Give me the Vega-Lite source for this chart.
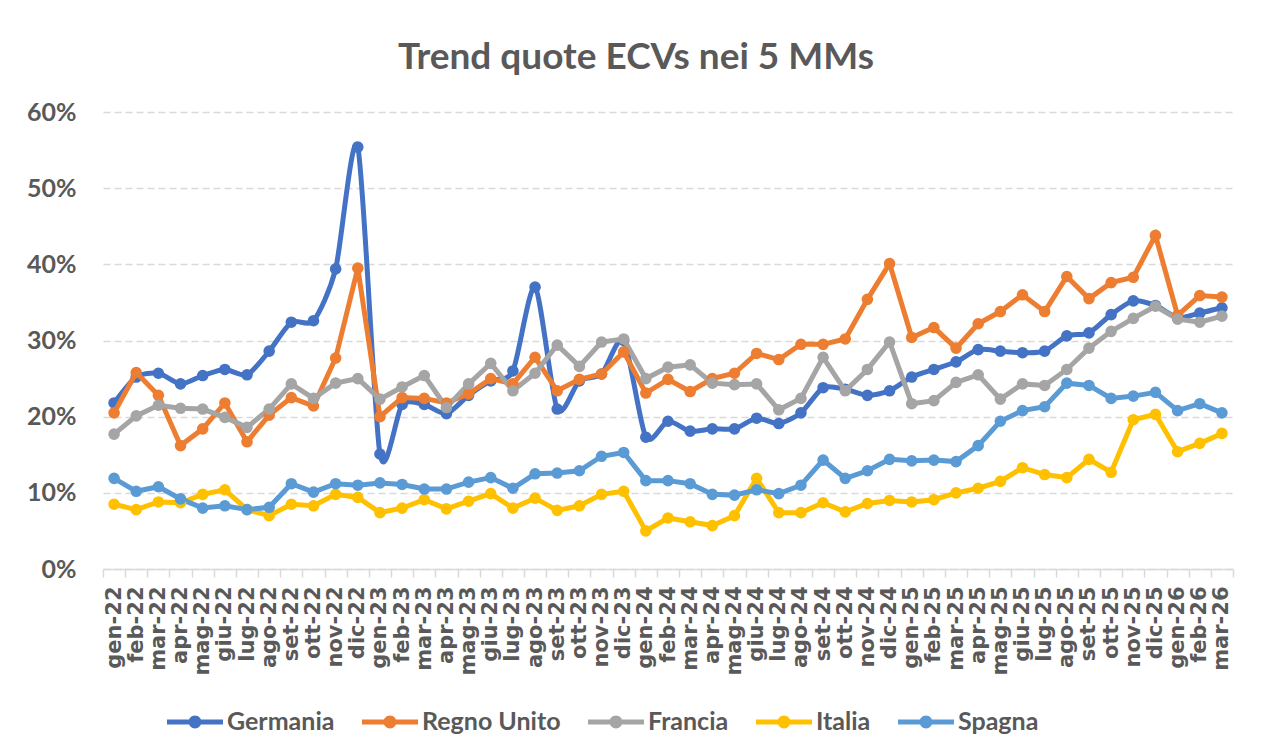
{
"$schema": "https://vega.github.io/schema/vega-lite/v6.json",
"width": 1130, "height": 457,
"autosize": {"type": "none"},
"padding": {"left": 103, "top": 112, "right": 28, "bottom": 186},
"background": "white",
"title": {"text": "Trend quote ECVs nei 5 MMs", "font": "Lato", "fontSize": 37, "fontWeight": "bold", "color": "#595959", "anchor": "middle", "dx": -32, "offset": 23},
"data": {"values": [
{"m":"gen-22","p":"Germania","v":21.8},{"m":"feb-22","p":"Germania","v":25.2},{"m":"mar-22","p":"Germania","v":25.7},{"m":"apr-22","p":"Germania","v":24.3},{"m":"mag-22","p":"Germania","v":25.4},{"m":"giu-22","p":"Germania","v":26.2},{"m":"lug-22","p":"Germania","v":25.5},{"m":"ago-22","p":"Germania","v":28.6},{"m":"set-22","p":"Germania","v":32.4},{"m":"ott-22","p":"Germania","v":32.6},{"m":"nov-22","p":"Germania","v":39.4},{"m":"dic-22","p":"Germania","v":55.4},
{"m":"gen-23","p":"Germania","v":15.1},{"m":"feb-23","p":"Germania","v":21.6},{"m":"mar-23","p":"Germania","v":21.6},{"m":"apr-23","p":"Germania","v":20.4},{"m":"mag-23","p":"Germania","v":22.8},{"m":"giu-23","p":"Germania","v":24.7},{"m":"lug-23","p":"Germania","v":26.0},{"m":"ago-23","p":"Germania","v":37.0},{"m":"set-23","p":"Germania","v":21.0},{"m":"ott-23","p":"Germania","v":24.7},{"m":"nov-23","p":"Germania","v":25.6},{"m":"dic-23","p":"Germania","v":30.0},
{"m":"gen-24","p":"Germania","v":17.3},{"m":"feb-24","p":"Germania","v":19.4},{"m":"mar-24","p":"Germania","v":18.1},{"m":"apr-24","p":"Germania","v":18.4},{"m":"mag-24","p":"Germania","v":18.4},{"m":"giu-24","p":"Germania","v":19.8},{"m":"lug-24","p":"Germania","v":19.1},{"m":"ago-24","p":"Germania","v":20.5},{"m":"set-24","p":"Germania","v":23.8},{"m":"ott-24","p":"Germania","v":23.6},{"m":"nov-24","p":"Germania","v":22.8},{"m":"dic-24","p":"Germania","v":23.4},
{"m":"gen-25","p":"Germania","v":25.2},{"m":"feb-25","p":"Germania","v":26.2},{"m":"mar-25","p":"Germania","v":27.2},{"m":"apr-25","p":"Germania","v":28.8},{"m":"mag-25","p":"Germania","v":28.6},{"m":"giu-25","p":"Germania","v":28.4},{"m":"lug-25","p":"Germania","v":28.6},{"m":"ago-25","p":"Germania","v":30.6},{"m":"set-25","p":"Germania","v":31.0},{"m":"ott-25","p":"Germania","v":33.4},{"m":"nov-25","p":"Germania","v":35.2},{"m":"dic-25","p":"Germania","v":34.6},
{"m":"gen-26","p":"Germania","v":33.0},{"m":"feb-26","p":"Germania","v":33.6},{"m":"mar-26","p":"Germania","v":34.3},
{"m":"gen-22","p":"Regno Unito","v":20.5},{"m":"feb-22","p":"Regno Unito","v":25.8},{"m":"mar-22","p":"Regno Unito","v":22.8},{"m":"apr-22","p":"Regno Unito","v":16.2},{"m":"mag-22","p":"Regno Unito","v":18.4},{"m":"giu-22","p":"Regno Unito","v":21.8},{"m":"lug-22","p":"Regno Unito","v":16.7},{"m":"ago-22","p":"Regno Unito","v":20.2},{"m":"set-22","p":"Regno Unito","v":22.5},{"m":"ott-22","p":"Regno Unito","v":21.4},{"m":"nov-22","p":"Regno Unito","v":27.7},{"m":"dic-22","p":"Regno Unito","v":39.5},
{"m":"gen-23","p":"Regno Unito","v":20.0},{"m":"feb-23","p":"Regno Unito","v":22.5},{"m":"mar-23","p":"Regno Unito","v":22.4},{"m":"apr-23","p":"Regno Unito","v":21.8},{"m":"mag-23","p":"Regno Unito","v":23.0},{"m":"giu-23","p":"Regno Unito","v":25.0},{"m":"lug-23","p":"Regno Unito","v":24.3},{"m":"ago-23","p":"Regno Unito","v":27.8},{"m":"set-23","p":"Regno Unito","v":23.4},{"m":"ott-23","p":"Regno Unito","v":24.9},{"m":"nov-23","p":"Regno Unito","v":25.6},{"m":"dic-23","p":"Regno Unito","v":28.5},
{"m":"gen-24","p":"Regno Unito","v":23.1},{"m":"feb-24","p":"Regno Unito","v":24.9},{"m":"mar-24","p":"Regno Unito","v":23.3},{"m":"apr-24","p":"Regno Unito","v":25.0},{"m":"mag-24","p":"Regno Unito","v":25.7},{"m":"giu-24","p":"Regno Unito","v":28.3},{"m":"lug-24","p":"Regno Unito","v":27.5},{"m":"ago-24","p":"Regno Unito","v":29.5},{"m":"set-24","p":"Regno Unito","v":29.5},{"m":"ott-24","p":"Regno Unito","v":30.2},{"m":"nov-24","p":"Regno Unito","v":35.4},{"m":"dic-24","p":"Regno Unito","v":40.1},
{"m":"gen-25","p":"Regno Unito","v":30.4},{"m":"feb-25","p":"Regno Unito","v":31.7},{"m":"mar-25","p":"Regno Unito","v":29.0},{"m":"apr-25","p":"Regno Unito","v":32.2},{"m":"mag-25","p":"Regno Unito","v":33.8},{"m":"giu-25","p":"Regno Unito","v":36.0},{"m":"lug-25","p":"Regno Unito","v":33.8},{"m":"ago-25","p":"Regno Unito","v":38.4},{"m":"set-25","p":"Regno Unito","v":35.5},{"m":"ott-25","p":"Regno Unito","v":37.6},{"m":"nov-25","p":"Regno Unito","v":38.3},{"m":"dic-25","p":"Regno Unito","v":43.8},
{"m":"gen-26","p":"Regno Unito","v":33.3},{"m":"feb-26","p":"Regno Unito","v":35.9},{"m":"mar-26","p":"Regno Unito","v":35.7},
{"m":"gen-22","p":"Francia","v":17.7},{"m":"feb-22","p":"Francia","v":20.1},{"m":"mar-22","p":"Francia","v":21.5},{"m":"apr-22","p":"Francia","v":21.1},{"m":"mag-22","p":"Francia","v":21.0},{"m":"giu-22","p":"Francia","v":19.9},{"m":"lug-22","p":"Francia","v":18.6},{"m":"ago-22","p":"Francia","v":21.0},{"m":"set-22","p":"Francia","v":24.3},{"m":"ott-22","p":"Francia","v":22.4},{"m":"nov-22","p":"Francia","v":24.4},{"m":"dic-22","p":"Francia","v":25.0},
{"m":"gen-23","p":"Francia","v":22.3},{"m":"feb-23","p":"Francia","v":23.9},{"m":"mar-23","p":"Francia","v":25.4},{"m":"apr-23","p":"Francia","v":21.2},{"m":"mag-23","p":"Francia","v":24.3},{"m":"giu-23","p":"Francia","v":27.0},{"m":"lug-23","p":"Francia","v":23.4},{"m":"ago-23","p":"Francia","v":25.7},{"m":"set-23","p":"Francia","v":29.4},{"m":"ott-23","p":"Francia","v":26.6},{"m":"nov-23","p":"Francia","v":29.8},{"m":"dic-23","p":"Francia","v":30.2},
{"m":"gen-24","p":"Francia","v":25.0},{"m":"feb-24","p":"Francia","v":26.5},{"m":"mar-24","p":"Francia","v":26.8},{"m":"apr-24","p":"Francia","v":24.4},{"m":"mag-24","p":"Francia","v":24.2},{"m":"giu-24","p":"Francia","v":24.3},{"m":"lug-24","p":"Francia","v":20.9},{"m":"ago-24","p":"Francia","v":22.4},{"m":"set-24","p":"Francia","v":27.8},{"m":"ott-24","p":"Francia","v":23.4},{"m":"nov-24","p":"Francia","v":26.2},{"m":"dic-24","p":"Francia","v":29.8},
{"m":"gen-25","p":"Francia","v":21.7},{"m":"feb-25","p":"Francia","v":22.1},{"m":"mar-25","p":"Francia","v":24.5},{"m":"apr-25","p":"Francia","v":25.5},{"m":"mag-25","p":"Francia","v":22.3},{"m":"giu-25","p":"Francia","v":24.3},{"m":"lug-25","p":"Francia","v":24.1},{"m":"ago-25","p":"Francia","v":26.2},{"m":"set-25","p":"Francia","v":29.0},{"m":"ott-25","p":"Francia","v":31.2},{"m":"nov-25","p":"Francia","v":32.9},{"m":"dic-25","p":"Francia","v":34.5},
{"m":"gen-26","p":"Francia","v":32.8},{"m":"feb-26","p":"Francia","v":32.4},{"m":"mar-26","p":"Francia","v":33.2},
{"m":"gen-22","p":"Italia","v":8.5},{"m":"feb-22","p":"Italia","v":7.8},{"m":"mar-22","p":"Italia","v":8.8},{"m":"apr-22","p":"Italia","v":8.7},{"m":"mag-22","p":"Italia","v":9.8},{"m":"giu-22","p":"Italia","v":10.4},{"m":"lug-22","p":"Italia","v":7.8},{"m":"ago-22","p":"Italia","v":7.0},{"m":"set-22","p":"Italia","v":8.5},{"m":"ott-22","p":"Italia","v":8.3},{"m":"nov-22","p":"Italia","v":9.8},{"m":"dic-22","p":"Italia","v":9.4},
{"m":"gen-23","p":"Italia","v":7.4},{"m":"feb-23","p":"Italia","v":8.0},{"m":"mar-23","p":"Italia","v":9.1},{"m":"apr-23","p":"Italia","v":7.9},{"m":"mag-23","p":"Italia","v":8.9},{"m":"giu-23","p":"Italia","v":9.9},{"m":"lug-23","p":"Italia","v":8.0},{"m":"ago-23","p":"Italia","v":9.3},{"m":"set-23","p":"Italia","v":7.7},{"m":"ott-23","p":"Italia","v":8.3},{"m":"nov-23","p":"Italia","v":9.8},{"m":"dic-23","p":"Italia","v":10.2},
{"m":"gen-24","p":"Italia","v":5.0},{"m":"feb-24","p":"Italia","v":6.7},{"m":"mar-24","p":"Italia","v":6.2},{"m":"apr-24","p":"Italia","v":5.7},{"m":"mag-24","p":"Italia","v":7.0},{"m":"giu-24","p":"Italia","v":11.9},{"m":"lug-24","p":"Italia","v":7.4},{"m":"ago-24","p":"Italia","v":7.4},{"m":"set-24","p":"Italia","v":8.7},{"m":"ott-24","p":"Italia","v":7.5},{"m":"nov-24","p":"Italia","v":8.6},{"m":"dic-24","p":"Italia","v":9.0},
{"m":"gen-25","p":"Italia","v":8.8},{"m":"feb-25","p":"Italia","v":9.1},{"m":"mar-25","p":"Italia","v":10.0},{"m":"apr-25","p":"Italia","v":10.6},{"m":"mag-25","p":"Italia","v":11.5},{"m":"giu-25","p":"Italia","v":13.3},{"m":"lug-25","p":"Italia","v":12.4},{"m":"ago-25","p":"Italia","v":12.0},{"m":"set-25","p":"Italia","v":14.4},{"m":"ott-25","p":"Italia","v":12.7},{"m":"nov-25","p":"Italia","v":19.6},{"m":"dic-25","p":"Italia","v":20.3},
{"m":"gen-26","p":"Italia","v":15.4},{"m":"feb-26","p":"Italia","v":16.5},{"m":"mar-26","p":"Italia","v":17.8},
{"m":"gen-22","p":"Spagna","v":11.9},{"m":"feb-22","p":"Spagna","v":10.2},{"m":"mar-22","p":"Spagna","v":10.8},{"m":"apr-22","p":"Spagna","v":9.2},{"m":"mag-22","p":"Spagna","v":8.0},{"m":"giu-22","p":"Spagna","v":8.3},{"m":"lug-22","p":"Spagna","v":7.8},{"m":"ago-22","p":"Spagna","v":8.1},{"m":"set-22","p":"Spagna","v":11.2},{"m":"ott-22","p":"Spagna","v":10.1},{"m":"nov-22","p":"Spagna","v":11.2},{"m":"dic-22","p":"Spagna","v":11.0},
{"m":"gen-23","p":"Spagna","v":11.3},{"m":"feb-23","p":"Spagna","v":11.1},{"m":"mar-23","p":"Spagna","v":10.5},{"m":"apr-23","p":"Spagna","v":10.5},{"m":"mag-23","p":"Spagna","v":11.4},{"m":"giu-23","p":"Spagna","v":12.0},{"m":"lug-23","p":"Spagna","v":10.6},{"m":"ago-23","p":"Spagna","v":12.5},{"m":"set-23","p":"Spagna","v":12.6},{"m":"ott-23","p":"Spagna","v":12.9},{"m":"nov-23","p":"Spagna","v":14.8},{"m":"dic-23","p":"Spagna","v":15.3},
{"m":"gen-24","p":"Spagna","v":11.6},{"m":"feb-24","p":"Spagna","v":11.6},{"m":"mar-24","p":"Spagna","v":11.2},{"m":"apr-24","p":"Spagna","v":9.8},{"m":"mag-24","p":"Spagna","v":9.7},{"m":"giu-24","p":"Spagna","v":10.4},{"m":"lug-24","p":"Spagna","v":9.9},{"m":"ago-24","p":"Spagna","v":11.0},{"m":"set-24","p":"Spagna","v":14.3},{"m":"ott-24","p":"Spagna","v":11.9},{"m":"nov-24","p":"Spagna","v":12.9},{"m":"dic-24","p":"Spagna","v":14.4},
{"m":"gen-25","p":"Spagna","v":14.2},{"m":"feb-25","p":"Spagna","v":14.3},{"m":"mar-25","p":"Spagna","v":14.1},{"m":"apr-25","p":"Spagna","v":16.2},{"m":"mag-25","p":"Spagna","v":19.4},{"m":"giu-25","p":"Spagna","v":20.8},{"m":"lug-25","p":"Spagna","v":21.3},{"m":"ago-25","p":"Spagna","v":24.4},{"m":"set-25","p":"Spagna","v":24.1},{"m":"ott-25","p":"Spagna","v":22.4},{"m":"nov-25","p":"Spagna","v":22.7},{"m":"dic-25","p":"Spagna","v":23.2},
{"m":"gen-26","p":"Spagna","v":20.8},{"m":"feb-26","p":"Spagna","v":21.7},{"m":"mar-26","p":"Spagna","v":20.5}
]},
"encoding": {
  "x": {"field": "m", "type": "ordinal",
    "scale": {"type": "band", "paddingInner": 0, "paddingOuter": 0,
      "domain": ["gen-22","feb-22","mar-22","apr-22","mag-22","giu-22","lug-22","ago-22","set-22","ott-22","nov-22","dic-22","gen-23","feb-23","mar-23","apr-23","mag-23","giu-23","lug-23","ago-23","set-23","ott-23","nov-23","dic-23","gen-24","feb-24","mar-24","apr-24","mag-24","giu-24","lug-24","ago-24","set-24","ott-24","nov-24","dic-24","gen-25","feb-25","mar-25","apr-25","mag-25","giu-25","lug-25","ago-25","set-25","ott-25","nov-25","dic-25","gen-26","feb-26","mar-26"]},
    "axis": {"title": null, "labelAngle": -90, "labelFont": "DejaVu Sans", "labelFontSize": 21, "labelFontWeight": "bold", "labelColor": "#595959", "labelPadding": 9, "tickBand": "extent", "ticks": true, "tickColor": "#d9d9d9", "tickSize": 8, "tickWidth": 1.5, "domainColor": "#d9d9d9", "domainWidth": 1.5, "grid": false, "labelOverlap": false}},
  "y": {"field": "v", "type": "quantitative", "scale": {"domain": [0, 60], "nice": false},
    "axis": {"title": null, "values": [0,10,20,30,40,50,60], "labelExpr": "datum.value + '%'", "labelFont": "Lato", "labelFontSize": 25, "labelFontWeight": "bold", "labelColor": "#595959", "labelPadding": 27, "domain": false, "ticks": false, "grid": true, "gridColor": "#d9d9d9", "gridDash": [7, 4], "gridWidth": 1.3}},
  "color": {"field": "p", "type": "nominal",
    "scale": {"domain": ["Germania","Regno Unito","Francia","Italia","Spagna"], "range": ["#4472C4","#ED7D31","#A5A5A5","#FFC000","#5B9BD5"]},
    "legend": {"orient": "none", "legendX": 64, "legendY": 582, "direction": "horizontal", "title": null,
       "symbolType": "M-1,-0.09L1,-0.09L1,0.09L-1,0.09Z M0.23,0A0.23,0.23,0,1,1,-0.23,0A0.23,0.23,0,1,1,0.23,0Z",
       "symbolSize": 3136, "symbolStrokeWidth": 0, "symbolOpacity": 1,
       "labelFont": "Lato", "labelFontSize": 25, "labelFontWeight": "bold", "labelColor": "#595959",
       "columnPadding": 27, "labelOffset": 4, "padding": 0, "labelLimit": 300,
       "encode": {"symbols": {"update": {"fill": {"scale": "color", "field": "value"}, "stroke": {"value": "transparent"}, "strokeWidth": {"value": 0}, "opacity": {"value": 1}}}}}}
},
"layer": [
  {"transform": [{"filter": "datum.p === 'Germania'"}], "mark": {"type": "line", "interpolate": "cardinal", "tension": 0.25, "strokeWidth": 5}},
  {"transform": [{"filter": "datum.p === 'Germania'"}], "mark": {"type": "circle", "size": 135, "opacity": 1}},
  {"transform": [{"filter": "datum.p !== 'Germania'"}], "mark": {"type": "line", "strokeWidth": 5}},
  {"transform": [{"filter": "datum.p !== 'Germania'"}], "mark": {"type": "circle", "size": 135, "opacity": 1}}
],
"config": {"view": {"stroke": null}}
}
